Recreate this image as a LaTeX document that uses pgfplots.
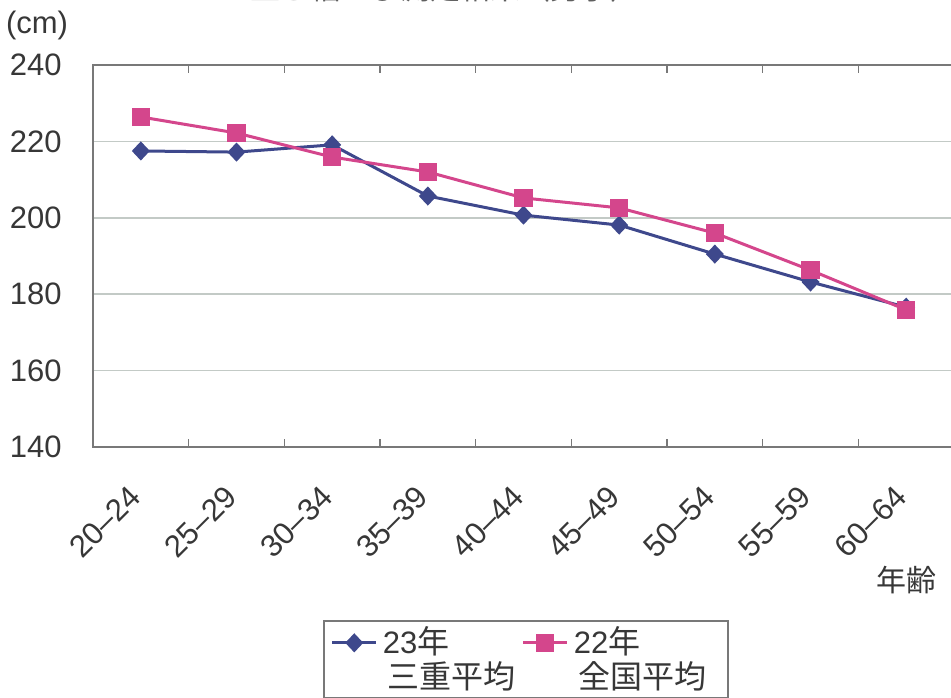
\documentclass[border=0pt]{standalone}
\usepackage{pgfplots}
\pgfplotsset{compat=1.18}
\usepackage{fontspec}
\setmainfont{Liberation Sans}
\newfontfamily\jp{Noto Sans CJK JP}
\definecolor{blueS}{RGB}{62,72,140}
\definecolor{pinkS}{RGB}{212,70,140}
\definecolor{gridc}{RGB}{195,202,198}
\definecolor{axc}{RGB}{120,120,120}
\definecolor{txt}{RGB}{55,55,55}
\begin{document}
\begin{tikzpicture}[x=1pt,y=1pt]
\useasboundingbox (0,0) rectangle (475.5,-348.5);
\node[font=\jp\fontsize{15}{18}\selectfont, text=txt!80, anchor=base] at (222.5,0.2) {立ち幅とび測定結果（男子）};
\node[font=\fontsize{15.5}{18}\selectfont, text=txt] at (18.5,-12.5) {(cm)};
\node[font=\jp\fontsize{15}{18}\selectfont, text=txt] at (453,-290) {年齢};
\begin{axis}[
  at={(46.5pt,-223.5pt)}, anchor=south west,
  scale only axis, width=430.5pt, height=191pt,
  xmin=-0.5, xmax=8.5, ymin=140, ymax=240,
  xtick={0,...,8},
  xticklabels={20–24,25–29,30–34,35–39,40–44,45–49,50–54,55–59,60–64},
  minor xtick={-0.5,0.5,...,8.5},
  major tick length=0pt, minor tick length=4pt,
  minor tick style={axc, line width=0.8pt},
  ytick={140,160,...,240},
  ymajorgrids, grid style={gridc, line width=0.8pt},
  axis line style={axc, line width=0.9pt},
  tick label style={font=\fontsize{15.5}{18}\selectfont, text=txt},
  /pgf/number format/assume math mode=true,
  yticklabel style={anchor=east, inner sep=0pt, xshift=-15.5pt},
  xticklabel style={inner sep=0pt, xshift=-2.5pt, yshift=-22pt, rotate=45, anchor=east},
  legend style={at={(0.2671,-0.4529)}, anchor=north west, draw=axc, line width=0.8pt,
    fill=white, font=\fontsize{15.5}{18}\selectfont, text=txt,
    inner xsep=3.5pt, inner ysep=3pt, row sep=2.5pt,
    /tikz/every even column/.append style={column sep=3pt},
    nodes={anchor=base west, inner sep=0pt}},
  legend columns=2,
  legend image code/.code={\draw[mark repeat=2,mark phase=2,#1] plot coordinates {(0pt,5.5pt) (11pt,5.5pt) (22pt,5.5pt)};},
]
\addplot[blueS, line width=1.5pt, mark=diamond*, mark size=3.7pt, mark options={xscale=1.25, solid, fill=blueS}] coordinates {
(0,217.5) (1,217.2) (2,219.1) (3,205.7) (4,200.7) (5,198.1) (6,190.5) (7,183.2) (8,176.6)};
\addlegendentry{\,23{\jp\fontsize{16}{18}\selectfont 年}}
\addplot[pinkS, line width=1.5pt, mark=square*, mark size=3.8pt, mark options={solid, fill=pinkS}] coordinates {
(0,226.4) (1,222.2) (2,215.9) (3,212.0) (4,205.2) (5,202.6) (6,196.0) (7,186.3) (8,175.9)};
\addlegendentry{\,22{\jp\fontsize{16}{18}\selectfont 年}}
\addlegendimage{empty legend}
\addlegendentry{\hspace{5pt}{\jp\fontsize{16}{18}\selectfont 三重平均}\rule[-10pt]{0pt}{10pt}}
\addlegendimage{empty legend}
\addlegendentry{\hspace{5pt}{\jp\fontsize{16}{18}\selectfont 全国平均}\hspace{7pt}\rule[-10pt]{0pt}{10pt}}
\end{axis}
\end{tikzpicture}
\end{document}
